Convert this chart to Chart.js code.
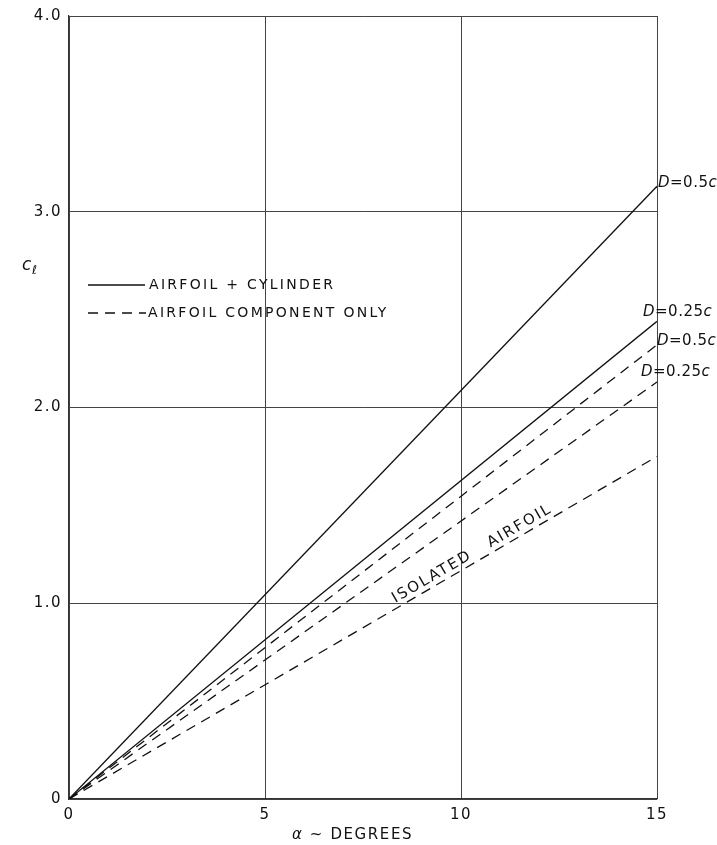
<!DOCTYPE html>
<html>
<head>
<meta charset="utf-8">
<script src="https://cdn.jsdelivr.net/npm/chart.js@4"></script>
<style>
  html, body { margin: 0; padding: 0; background: #fff; }
  #wrap { width: 717px; height: 845px; }
</style>
</head>
<body>
<div id="wrap"><canvas id="liftChart" width="717" height="845"></canvas></div>
<script>
// angle of attack (deg) and section lift coefficient
const alphaDeg = [0, 15];
const clCylHalf = [0, 3.13];      // airfoil + cylinder, D = 0.5c
const clCylQuarter = [0, 2.44];   // airfoil + cylinder, D = 0.25c
const clCompHalf = [0, 2.32];     // airfoil component only, D = 0.5c
const clCompQuarter = [0, 2.13];  // airfoil component only, D = 0.25c
const clIsolated = [0, 1.75];     // isolated airfoil

const xTicks = [0, 5, 10, 15];
const yTicks = [0, 1, 2, 3, 4];
const yTickLabels = ['0', '1.0', '2.0', '3.0', '4.0'];

const legendLabels = ['AIRFOIL + CYLINDER', 'AIRFOIL COMPONENT ONLY'];
const endLabels = ['0.5', '0.25', '0.5', '0.25'];

const FONT = '"DejaVu Sans", "Liberation Sans", sans-serif';
const DASH = [10, 7];

function pts(ys) {
    return alphaDeg.map((a, i) => ({ x: a, y: ys[i] }));
}

function drawRich(ctx, pieces, x, y, size) {
    let cx = x;
    pieces.forEach(p => {
        ctx.font = (p.italic ? 'italic ' : '') + size + 'px ' + FONT;
        ctx.fillText(p.t, cx, y);
        cx += ctx.measureText(p.t).width;
    });
}

const annotPlugin = {
    id: 'annot',
    beforeDraw(chart) {
        chart.ctx.letterSpacing = '1.5px';
    },
    afterDatasetsDraw(chart) {
        const ctx = chart.ctx;
        const xs = chart.scales.x, ys = chart.scales.y;
        ctx.save();
        ctx.fillStyle = '#111';
        ctx.strokeStyle = '#111';
        ctx.textBaseline = 'middle';
        ctx.textAlign = 'left';

        // legend
        ctx.lineWidth = 1.3;
        ctx.beginPath();
        ctx.moveTo(88, 285); ctx.lineTo(145, 285);
        ctx.stroke();
        ctx.setLineDash(DASH);
        ctx.beginPath();
        ctx.moveTo(88, 313); ctx.lineTo(146, 313);
        ctx.stroke();
        ctx.setLineDash([]);
        ctx.letterSpacing = '2.3px';
        ctx.font = '14px ' + FONT;
        ctx.fillText(legendLabels[0], 149, 285);
        ctx.fillText(legendLabels[1], 148, 313);

        // D = ... labels at line ends
        const ends = [
            { v: clCylHalf[1], dx: 1, dy: -3 },
            { v: clCylQuarter[1], dx: -14, dy: -9 },
            { v: clCompHalf[1], dx: 0, dy: -4 },
            { v: clCompQuarter[1], dx: -16, dy: -10 }
        ];
        ctx.letterSpacing = '0.5px';
        ends.forEach((e, i) => {
            const px = xs.getPixelForValue(alphaDeg[1]) + e.dx;
            const py = ys.getPixelForValue(e.v) + e.dy;
            drawRich(ctx, [
                { t: 'D', italic: true },
                { t: '=' + endLabels[i], italic: false },
                { t: 'c', italic: true }
            ], px, py, 15);
        });

        // ISOLATED AIRFOIL along its line
        const x0 = xs.getPixelForValue(alphaDeg[0]), y0 = ys.getPixelForValue(clIsolated[0]);
        const x1 = xs.getPixelForValue(alphaDeg[1]), y1 = ys.getPixelForValue(clIsolated[1]);
        const ang = Math.atan2(y1 - y0, x1 - x0);
        const t = 10.4 / 15;
        const cx = x0 + (x1 - x0) * t + Math.sin(ang) * 9;
        const cy = y0 + (y1 - y0) * t - Math.cos(ang) * 9;
        ctx.save();
        ctx.translate(cx, cy);
        ctx.rotate(ang);
        ctx.textAlign = 'center';
        ctx.letterSpacing = '2px';
        ctx.font = '15px ' + FONT;
        ctx.fillText('ISOLATED   AIRFOIL', 0, 0);
        ctx.restore();

        // axis titles
        ctx.letterSpacing = '1.6px';
        drawRich(ctx, [
            { t: 'α', italic: true },
            { t: ' ~ DEGREES', italic: false }
        ], 292, 835, 15);
        ctx.letterSpacing = '0px';
        ctx.font = 'italic 17px ' + FONT;
        ctx.fillText('c', 22, 266);
        ctx.font = 'italic 12px ' + FONT;
        ctx.fillText('ℓ', 32, 271);
        ctx.restore();
    }
};

const lineStyle = (data, dashed) => ({
    data: pts(data),
    borderColor: '#111',
    borderWidth: 1.3,
    borderDash: dashed ? DASH : [],
    pointRadius: 0,
    fill: false,
    tension: 0
});

new Chart(document.getElementById('liftChart').getContext('2d'), {
    type: 'line',
    data: {
        datasets: [
            lineStyle(clCylHalf, false),
            lineStyle(clCylQuarter, false),
            lineStyle(clCompHalf, true),
            lineStyle(clCompQuarter, true),
            lineStyle(clIsolated, true)
        ]
    },
    options: {
        responsive: false,
        animation: false,
        layout: { padding: { left: 0, right: 60, top: 15, bottom: 0 } },
        plugins: { legend: { display: false }, tooltip: { enabled: false } },
        scales: {
            x: {
                type: 'linear',
                min: 0, max: 15,
                afterBuildTicks: s => { s.ticks = xTicks.map(v => ({ value: v })); },
                afterFit: s => { s.height = 46; },
                ticks: { padding: 7, color: '#111', font: { family: FONT, size: 15 } },
                grid: { color: '#444', lineWidth: 1, drawTicks: false },
                border: { color: '#333', width: 1.2 }
            },
            y: {
                type: 'linear',
                min: 0, max: 4,
                afterBuildTicks: s => { s.ticks = yTicks.map(v => ({ value: v })); },
                afterFit: s => { s.width = 69; },
                ticks: {
                    padding: 7, color: '#111', font: { family: FONT, size: 15 },
                    callback: v => yTickLabels[yTicks.indexOf(v)]
                },
                grid: { color: '#444', lineWidth: 1, drawTicks: false },
                border: { color: '#333', width: 1.2 }
            }
        }
    },
    plugins: [annotPlugin]
});
</script>
</body>
</html>
